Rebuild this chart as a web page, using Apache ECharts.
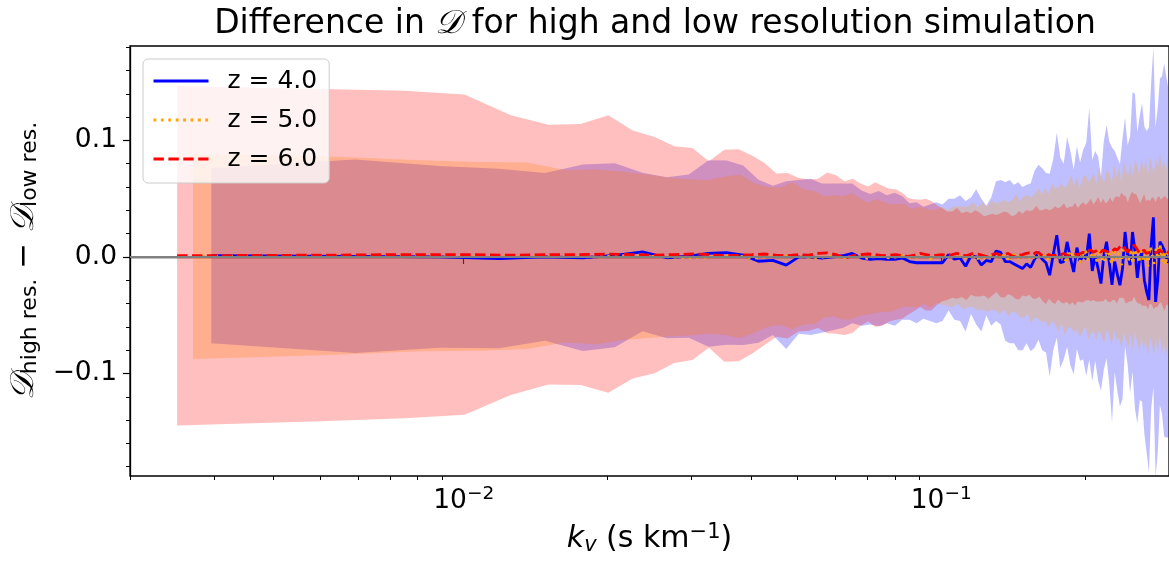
<!DOCTYPE html>
<html><head><meta charset="utf-8">
<script src="https://cdn.jsdelivr.net/npm/echarts@6/dist/echarts.min.js"></script>
<style>html,body{margin:0;padding:0;background:#fff}#c{width:1169px;height:561px}</style>
</head><body><div id="c"></div>
<script>
// k grid steps (k_n = n * step)
const kStepZ4 = 0.00296, kStepZ5 = 0.00271, kStepZ6 = 0.00251;

const lineZ4 = [
 0.001,0.0005,0.0,-0.0014,0.0,-0.0007,0.0014,0.0043,-0.0007,0.0007,
 0.003,0.0037,0.0015,-0.0037,-0.003,-0.007,0.0,0.0,-0.001,0.0,
 0.001,0.003,-0.001,-0.002,-0.0015,-0.002,-0.002,-0.001,-0.004,-0.005,
 -0.005,-0.005,-0.005,-0.005,0.002,-0.002,-0.001,-0.008,0.001,0.0,
 -0.007,-0.003,-0.004,0.005,0.004,-0.004,-0.004,-0.006,-0.008,-0.010,
 -0.006,-0.009,-0.002,0.004,-0.002,-0.005,-0.0157,0.002,0.0186,-0.005,
 -0.004,0.0129,-0.001,-0.0129,0.008,-0.004,0.002,-0.002,0.020,-0.012,
 0.001,-0.010,-0.0228,0.001,0.013,-0.005,-0.024,-0.004,-0.015,-0.0243,
 -0.010,0.0214,0.002,-0.007,0.0214,0.005,-0.018,-0.001,0.004,-0.020,
 -0.030,-0.037,0.010,0.034,-0.0386,-0.020,0.013,0.010,0.006,0.000,
 -0.005];
const errZ4 = [
 0.075,0.083,0.078,0.077,0.072,0.080,0.079,0.068,0.069,0.070,
 0.080,0.079,0.077,0.070,0.064,0.072,0.066,0.067,0.064,0.063,
 0.062,0.060,0.058,0.056,0.058,0.055,0.057,0.053,0.050,0.052,
 0.048,0.050,0.052,0.050,0.048,0.052,0.054,0.056,0.050,0.058,
 0.057,0.047,0.055,0.060,0.062,0.068,0.070,0.068,0.072,0.070,
 0.068,0.072,0.076,0.075,0.078,0.077,0.087,0.082,0.088,0.090,
 0.084,0.090,0.092,0.088,0.087,0.085,0.090,0.100,0.108,0.095,
 0.090,0.096,0.092,0.098,0.100,0.104,0.118,0.095,0.100,0.104,
 0.112,0.098,0.094,0.110,0.120,0.135,0.125,0.122,0.128,0.132,
 0.138,0.148,0.140,0.146,0.150,0.148,0.140,0.145,0.160,0.155,
 0.150];

const lineZ5 = [
 0.0005,0.001,0.001,0.0005,0.001,0.0005,0.0,0.001,0.0005,0.0,
 -0.0005,0.0,0.001,0.0005,-0.001,0.0,0.0005,0.001,0.0,-0.0005,
 0.0,0.001,-0.001,0.0005,0.0,-0.0015,0.001,0.0,-0.001,0.0005,
 0.0015,-0.001,0.0,0.001,-0.0015,0.0005,0.001,-0.001,0.0,0.0015,
 -0.001,0.0,0.002,-0.0015,0.001,-0.002,0.0015,0.0,-0.001,0.002,
 -0.002,0.001,0.003,-0.002,0.0,0.002,-0.003,0.001,0.003,-0.001,
 0.002,-0.003,0.004,0.0,-0.002,0.003,-0.004,0.001,0.005,-0.002,
 0.003,-0.005,0.002,0.006,-0.003,0.001,0.004,-0.004,0.007,0.0,
 -0.005,0.006,0.002,-0.006,0.008,-0.002,0.004,-0.007,0.009,0.001,
 -0.004,0.007,-0.006,0.010,0.002,-0.005,0.008,-0.003,0.006,-0.008,
 0.009,0.002,-0.006,0.007,-0.002,0.011,-0.004,0.005,-0.007,0.008];
const errZ5 = [
 0.088,0.085,0.082,0.081,0.080,0.074,0.075,0.072,0.070,0.068,
 0.067,0.066,0.068,0.070,0.064,0.060,0.059,0.063,0.058,0.057,
 0.052,0.052,0.053,0.054,0.050,0.048,0.049,0.047,0.046,0.045,
 0.044,0.042,0.043,0.041,0.042,0.040,0.042,0.041,0.043,0.042,
 0.044,0.043,0.045,0.044,0.046,0.045,0.047,0.046,0.048,0.047,
 0.049,0.048,0.051,0.050,0.052,0.051,0.054,0.053,0.056,0.055,
 0.057,0.057,0.059,0.058,0.062,0.060,0.063,0.062,0.065,0.063,
 0.065,0.064,0.066,0.065,0.068,0.066,0.068,0.067,0.069,0.068,
 0.069,0.068,0.070,0.069,0.071,0.070,0.073,0.071,0.074,0.072,
 0.074,0.073,0.075,0.074,0.076,0.075,0.077,0.076,0.078,0.077,
 0.077,0.076,0.078,0.077,0.079,0.078,0.080,0.078,0.079,0.080];

const lineZ6 = [
 0.001,0.0015,0.002,0.002,0.0015,0.002,0.002,0.0025,0.002,0.0015,
 0.002,0.0025,0.002,0.001,0.0015,0.002,0.0025,0.0015,0.001,0.002,
 0.0015,0.003,0.0035,0.002,-0.001,0.001,0.002,0.0025,0.002,0.001,
 0.0015,0.002,0.001,0.0005,0.0015,0.003,0.002,0.001,0.0015,0.002,
 0.001,0.002,0.003,0.0015,0.001,0.0025,0.003,0.002,0.001,0.0,
 0.002,0.003,0.0015,0.002,0.003,0.001,0.0,0.0015,0.002,0.003,
 0.0035,0.002,0.004,0.003,0.001,0.0005,0.002,0.001,0.0015,0.0025,
 0.002,0.003,0.0015,0.001,0.002,0.0025,0.002,0.003,0.004,0.0035,
 0.005,0.006,0.004,0.005,0.0065,0.004,0.006,0.005,0.0045,0.006,
 0.005,0.007,0.006,0.008,0.010,0.009,0.006,0.004,0.007,0.009,
 0.010,0.008,0.005,0.003,0.004,0.006,0.003,0.002,0.004,0.005,
 0.003,0.002,0.004,0.006,0.005,0.004,0.003,0.005,0.004,0.003];
const errZ6 = [
 0.1456,0.1425,0.1405,0.1374,0.120,0.1115,0.112,0.119,0.1064,0.1014,
 0.093,0.091,0.080,0.091,0.091,0.085,0.078,0.070,0.071,0.066,
 0.065,0.064,0.069,0.068,0.066,0.066,0.061,0.058,0.062,0.060,
 0.057,0.056,0.054,0.050,0.048,0.046,0.048,0.047,0.043,0.040,
 0.038,0.037,0.039,0.036,0.038,0.035,0.037,0.036,0.034,0.036,
 0.035,0.033,0.036,0.037,0.035,0.034,0.036,0.038,0.035,0.037,
 0.036,0.038,0.040,0.037,0.039,0.041,0.038,0.040,0.042,0.039,
 0.041,0.043,0.040,0.042,0.041,0.044,0.040,0.042,0.043,0.041,
 0.042,0.044,0.041,0.043,0.045,0.042,0.044,0.041,0.043,0.045,
 0.042,0.044,0.046,0.043,0.045,0.044,0.046,0.043,0.045,0.047,
 0.044,0.046,0.045,0.043,0.046,0.048,0.045,0.047,0.044,0.046,
 0.048,0.045,0.047,0.046,0.044,0.047,0.049,0.046,0.045,0.047];

const xLimits = [0.002, 0.3];
const yLimits = [-0.188, 0.181];
const xMajorTicks = [0.01, 0.1];
const xMinorTicks = [0.002,0.003,0.004,0.005,0.006,0.007,0.008,0.009,0.02,0.03,0.04,0.05,0.06,0.07,0.08,0.09,0.2,0.3];
const yMajorTicks = [-0.1, 0, 0.1];
const legendNames = ['z = 4.0', 'z = 5.0', 'z = 6.0'];

const FONT = 'DejaVu Sans';
const kGrid = (arr, step) => arr.map((_, i) => (i + 1) * step);
const kZ4 = kGrid(lineZ4, kStepZ4), kZ5 = kGrid(lineZ5, kStepZ5), kZ6 = kGrid(lineZ6, kStepZ6);

function band(ks, line, err, color) {
  return {
    type: 'custom', silent: true, z: 1, clip: true,
    xAxisIndex: 0, yAxisIndex: 0,
    data: [[0.01, 0]],
    renderItem: function (params, api) {
      const top = ks.map((k, i) => api.coord([k, line[i] + err[i]]));
      const bot = ks.map((k, i) => api.coord([k, line[i] - err[i]])).reverse();
      return { type: 'polygon', shape: { points: top.concat(bot) }, style: { fill: color } };
    }
  };
}
function curve(name, ks, vals, color, type) {
  return {
    type: 'line', name: name, z: 3, symbol: 'none', showSymbol: false, silent: true,
    xAxisIndex: 0, yAxisIndex: 0,
    data: ks.map((k, i) => [k, vals[i]]),
    lineStyle: { color: color, width: 2.8, type: type, cap: 'butt' },
    itemStyle: { color: color },
    animation: false
  };
}
const isPow10 = v => Math.abs(Math.log10(v) - Math.round(Math.log10(v))) < 1e-6;

const chart = echarts.init(document.getElementById('c'), null, { renderer: 'canvas' });
chart.setOption({
  animation: false,
  backgroundColor: '#ffffff',
  textStyle: { fontFamily: FONT },
  title: {
    text: 'Difference in {d|𝒟} for high and low resolution simulation',
    left: 650, top: 3, textAlign: 'center',
    textStyle: { fontFamily: FONT, fontSize: 33, fontWeight: 'normal', color: '#000',
      rich: { d: { fontFamily: 'DejaVu Serif', fontStyle: 'italic', fontSize: 33 } } }
  },
  legend: {
    data: legendNames, orient: 'vertical', left: 143, top: 59,
    padding: [8, 12, 10, 9], itemGap: 11, itemWidth: 55, itemHeight: 14,
    backgroundColor: 'rgba(255,255,255,0.8)', borderColor: '#cccccc', borderWidth: 1, borderRadius: 5,
    itemStyle: { opacity: 0 },
    lineStyle: { width: 3 },
    textStyle: { fontFamily: FONT, fontSize: 25, color: '#000', lineHeight: 28, padding: [0, 0, 0, 14] }
  },
  grid: { left: 130, top: 46, width: 1040, height: 430, show: true, borderColor: '#000', borderWidth: 1.3, backgroundColor: 'transparent' },
  xAxis: [{
    type: 'log', logBase: 10, min: xLimits[0], max: xLimits[1],
    name: '{k|k}{v|v} (s km{sup|−1})', nameLocation: 'middle', nameGap: 46,
    nameTextStyle: { fontFamily: FONT, fontSize: 30, color: '#000',
      rich: { k: { fontStyle: 'italic', fontSize: 30, fontFamily: FONT }, v: { fontStyle: 'italic', fontSize: 21, fontFamily: FONT, padding: [12, 0, 0, 0] }, sup: { fontSize: 21, fontFamily: FONT, padding: [0, 0, 14, 0] } } },
    axisLine: { show: true, lineStyle: { color: '#000', width: 1.3 } },
    axisTick: { show: true, length: 7, lineStyle: { color: '#000', width: 1.2 }, customValues: xMajorTicks },
    axisLabel: { show: true, customValues: xMajorTicks, margin: 9, color: '#000',
      formatter: v => isPow10(v) ? '{b|10}{s|−' + Math.round(-Math.log10(v)) + '}' : '',
      rich: { b: { fontSize: 26.5, fontFamily: FONT, color: '#000' }, s: { fontSize: 18.5, fontFamily: FONT, color: '#000', padding: [0, 0, 13, 0] } } },
    splitLine: { show: false }, minorTick: { show: false }
  }, {
    type: 'log', logBase: 10, min: xLimits[0], max: xLimits[1], position: 'bottom',
    axisLine: { show: false },
    axisTick: { show: true, length: 4, lineStyle: { color: '#000', width: 1 }, customValues: xMinorTicks },
    axisLabel: { show: false }, splitLine: { show: false }
  }],
  yAxis: [{
    type: 'value', min: yLimits[0], max: yLimits[1],
    name: '{d|𝒟}{sub|high res.}{t| − }{d|𝒟}{sub|low res.}', nameLocation: 'middle', nameRotate: 90, nameGap: 84,
    nameTextStyle: { fontFamily: FONT, fontSize: 31, color: '#000',
      rich: { d: { fontFamily: 'DejaVu Serif', fontStyle: 'italic', fontSize: 33 }, sub: { fontSize: 22, fontFamily: FONT, padding: [12, 0, 0, 0] }, t: { fontSize: 31, fontFamily: FONT } } },
    axisLine: { show: true, lineStyle: { color: '#000', width: 1.3 } },
    axisTick: { show: true, length: 7, lineStyle: { color: '#000', width: 1.2 }, customValues: yMajorTicks },
    axisLabel: { customValues: yMajorTicks, fontSize: 26.5, fontFamily: FONT, color: '#000', margin: 13,
      formatter: v => (Math.abs(v) < 1e-9 ? '0.0' : (v < 0 ? '−' : '') + Math.abs(v).toFixed(1)) },
    minorTick: { show: true, splitNumber: 5, length: 4, lineStyle: { color: '#000', width: 1 } },
    splitLine: { show: false }
  }],
  series: [
    { type: 'line', name: 'zero', data: [], z: 0, silent: true,
      markLine: { silent: true, symbol: ['none', 'none'], label: { show: false }, animation: false,
        lineStyle: { color: '#808080', width: 2, type: 'solid' }, data: [{ yAxis: 0 }] } },
    band(kZ4, lineZ4, errZ4, 'rgba(0,0,255,0.25)'),
    band(kZ5, lineZ5, errZ5, 'rgba(255,165,0,0.25)'),
    band(kZ6, lineZ6, errZ6, 'rgba(255,0,0,0.25)'),
    curve(legendNames[0], kZ4, lineZ4, '#0000ff', 'solid'),
    curve(legendNames[1], kZ5, lineZ5, '#ffa500', [2.8, 4.6]),
    curve(legendNames[2], kZ6, lineZ6, '#ff0000', [10.4, 4.5])
  ]
});
</script></body></html>
